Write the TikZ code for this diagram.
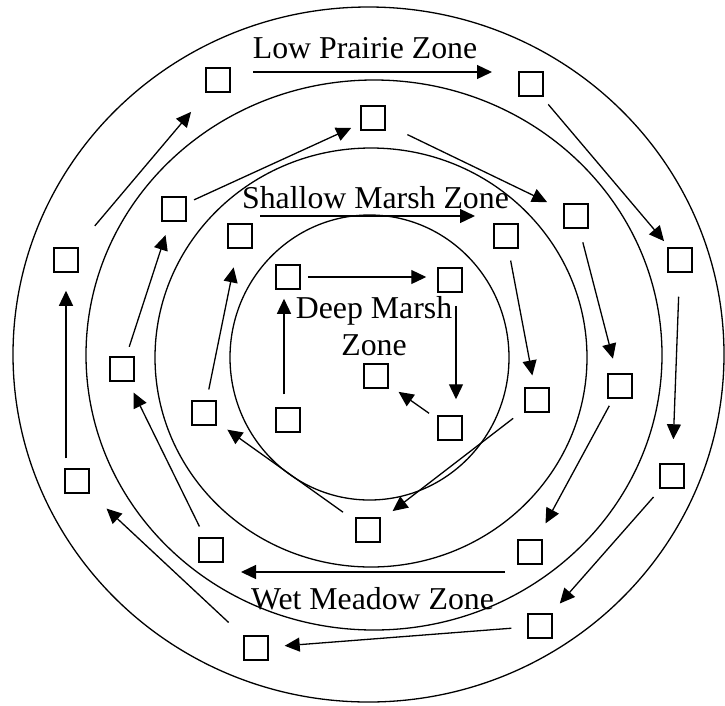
\documentclass[tikz,border=0pt]{standalone}
\usepackage{fontspec}
\setmainfont{Liberation Serif}
\usetikzlibrary{arrows.meta}
\tikzset{
  sq/.style={draw, line width=1.5pt, minimum size=24pt, inner sep=0pt},
  zone/.style={font=\fontsize{31.8}{37}\selectfont, inner sep=0pt, anchor=base},
  ring/.style={line width=1.3pt},
  arr/.style={-{Triangle[length=15pt, width=14pt]}, line width=1.3pt, shorten <=12pt, shorten >=12pt},
}

\begin{document}
\begin{tikzpicture}[x=1pt, y=-1pt]
  \useasboundingbox (0,0) rectangle (725,705);
  % zone boundaries
  \draw[ring] (368.5,354.5) ellipse [x radius=355.5pt, y radius=347.5pt];
  \draw[ring] (374,355) ellipse [x radius=288pt, y radius=275pt];
  \draw[ring] (371,357.5) ellipse [x radius=216pt, y radius=209.5pt];
  \draw[ring] (369.5,357.5) ellipse [x radius=139.5pt, y radius=142.5pt];

  % zone names
  \node[zone] (lp) at (365,58) {Low Prairie Zone};
  \node[zone] (sm) at (375.5,208) {Shallow Marsh Zone};
  \node[zone] (wm) at (372.5,609) {Wet Meadow Zone};
  \node[zone, align=center] (dm) at (374,355) {Deep Marsh\\Zone};

  % low prairie
  \node[sq] (o1) at (218,80) {};
  \node[sq] (o2) at (531,84) {};
  \node[sq] (o3) at (680,260) {};
  \node[sq] (o4) at (672,476) {};
  \node[sq] (o5) at (540,626) {};
  \node[sq] (o6) at (256,648) {};
  \node[sq] (o7) at (77,481) {};
  \node[sq] (o8) at (66,260) {};
  % wet meadow
  \node[sq] (s1) at (174,209) {};
  \node[sq] (s2) at (373,118) {};
  \node[sq] (s3) at (576,216) {};
  \node[sq] (s4) at (620,386) {};
  \node[sq] (s5) at (530,552) {};
  \node[sq] (s6) at (211,550) {};
  \node[sq] (s7) at (122,369) {};
  % shallow marsh
  \node[sq] (t1) at (240,236) {};
  \node[sq] (t2) at (506,236) {};
  \node[sq] (t3) at (537,400) {};
  \node[sq] (t4) at (368,530) {};
  \node[sq] (t5) at (204,413) {};
  % deep marsh
  \node[sq] (d1) at (288,277) {};
  \node[sq] (d2) at (450,280) {};
  \node[sq] (d3) at (450,428) {};
  \node[sq] (d4) at (376,376) {};
  \node[sq] (d5) at (288,420) {};

  \coordinate (lpA) at (253,72);
  \coordinate (lpB) at (492,72);
  \coordinate (smA) at (260,216);
  \coordinate (smB) at (475,216);
  \coordinate (wmA) at (505,572);
  \coordinate (wmB) at (241,572);

  % outer ring
  \draw[arr, shorten <=28pt, shorten >=25pt] (o8) -- (o1);
  \draw[arr, shorten <=0pt, shorten >=0pt] (lpA) -- (lpB);
  \draw[arr, shorten <=10pt, shorten >=8pt] (o2) -- (o3);
  \draw[arr, shorten <=24pt, shorten >=24pt] (o3) -- (o4);
  \draw[arr, shorten <=11pt, shorten >=13pt] (o4) -- (o5);
  \draw[arr, shorten <=16pt, shorten >=16pt] (o5) -- (o6);
  \draw[arr, shorten <=20pt, shorten >=23pt] (o6) -- (o7);
  \draw[arr, shorten <=10pt, shorten >=18pt] (o7.north -| o8.south) -- (o8.south);

  % second ring
  \draw[arr, shorten <=8pt, shorten >=10pt] (s1) -- (s2);
  \draw[arr, shorten <=24pt, shorten >=18pt] (s2) -- (s3);
  \draw[arr, shorten <=14pt, shorten >=15pt] (s3) -- (s4);
  \draw[arr, shorten <=8pt, shorten >=18pt] (s4) -- (s5);
  \draw[arr, shorten <=0pt, shorten >=0pt] (wmA) -- (wmB);
  \draw[arr] (s6) -- (s7);
  \draw[arr, shorten <=10pt, shorten >=14pt] (s7) -- (s1);

  % third ring
  \draw[arr, shorten <=0pt, shorten >=0pt] (smA) -- (smB);
  \draw[arr] (t2) -- (t3);
  \draw[arr, shorten <=14pt, shorten >=15pt] (t3) -- (t4);
  \draw[arr, shorten <=15pt, shorten >=13pt] (t4) -- (t5);
  \draw[arr, shorten <=11pt, shorten >=19pt] (t5) -- (t1);

  % centre
  \draw[arr, shorten <=7pt, shorten >=11pt] (d1.east) -- (d1.east -| d2.west);
  \draw[arr, shorten <=13pt, shorten >=16pt] ([xshift=6pt]d2.south) -- ([xshift=6pt]d3.north);
  \draw[arr, shorten <=10pt, shorten >=12pt] (d3) -- (d4);
  \draw[arr, shorten <=13pt, shorten >=9pt] ([xshift=-4pt]d5.north) -- ([xshift=-4pt]d1.south);
\end{tikzpicture}
\end{document}
